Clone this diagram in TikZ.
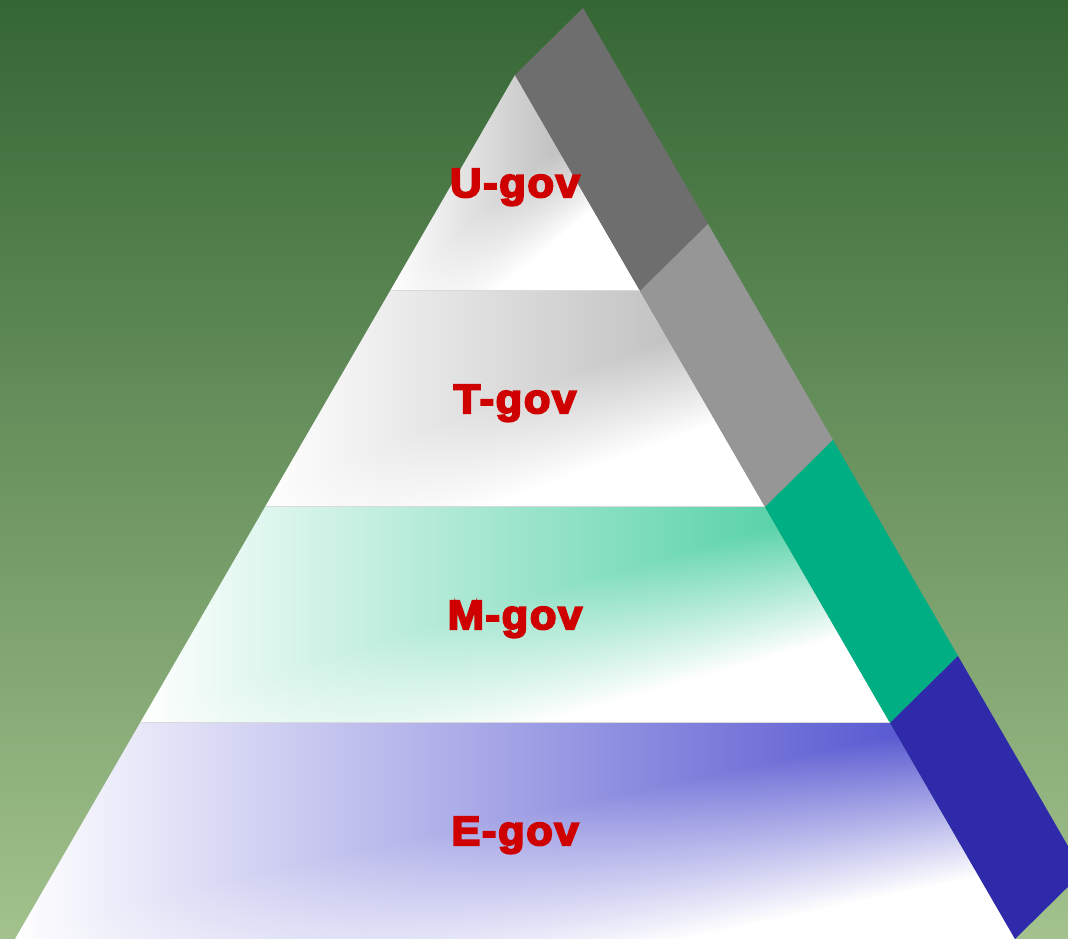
\documentclass[tikz,border=0pt]{standalone}
\usepackage{fontspec}
\newfontfamily\labelfont[FakeBold=5,FakeStretch=1.06,LetterSpace=4]{Liberation Sans Bold}
\usetikzlibrary{calc,fadings}

\definecolor{bgtop}{HTML}{346634}
\definecolor{bgmid}{HTML}{5B8B53}
\definecolor{bgbot}{HTML}{A3C28D}
\definecolor{labelred}{HTML}{CE0000}
% side band colours
\definecolor{uband}{HTML}{6E6E6E}
\definecolor{tband}{HTML}{969696}
\definecolor{mband}{HTML}{00AE84}
\definecolor{eband}{HTML}{2E2AAA}
% layer tints
\definecolor{ushade}{HTML}{A2A2A2}
\definecolor{tshade}{HTML}{B4B4B4}
\definecolor{mshade}{HTML}{3CCB9A}
\definecolor{eshade}{HTML}{4444CC}

\begin{document}
\begin{tikzpicture}[x=1pt, y=1pt,
  govlabel/.style={font=\labelfont\fontsize{41}{48}\selectfont, text=labelred,
                   anchor=base, inner sep=0pt},
  layerline/.style={draw=gray!30, line width=1pt}
]
\useasboundingbox (0,0) rectangle (1068,939);
\clip (0,0) rectangle (1068,939);

% background
\shade[top color=bgtop, middle color=bgmid, bottom color=bgbot] (0,0) rectangle (1068,939);

% pyramid outline
\coordinate (A) at (515,864);
\coordinate (BL) at (15,0);
\coordinate (BR) at (1015,0);

\foreach \i/\f/\g/\col/\band/\ang/\off/\w/\lab in {
    u/0/0.25/ushade/uband/40/0/70/U-gov,
    t/0.25/0.5/tshade/tband/20/5/95/T-gov,
    m/0.5/0.75/mshade/mband/16/15/125/M-gov,
    e/0.75/1/eshade/eband/12/15/155/E-gov}
{
  \coordinate (\i tl) at ($(A)!\f!(BL)$);
  \coordinate (\i tr) at ($(A)!\f!(BR)$);
  \coordinate (\i bl) at ($(A)!\g!(BL)$);
  \coordinate (\i br) at ($(A)!\g!(BR)$);
  \coordinate (\i c) at ($(A |- \i tl)!0.5!(A |- \i bl)$);
  \begin{scope}
    \clip (\i tl) -- (\i tr) -- (\i br) -- (\i bl) -- cycle;
    \shade[left color=white, middle color=\col!40!white, right color=\col]
      (\i bl) rectangle (\i br |- \i tl);
    \begin{scope}[transform canvas={rotate around={\ang:(\i c)}}]
      \fill[white, path fading=north] ($(\i c)+(-700,\off-\w)$) rectangle ($(\i c)+(700,\off)$);
      \fill[white] ($(\i c)+(-700,-600)$) rectangle ($(\i c)+(700,\off-\w+0.5)$);
    \end{scope}
  \end{scope}
  \draw[layerline] (\i tl) -- (\i tr);
  % side band
  \fill[\band] (\i tr) -- ++(68,67) -- ($(\i br)+(68,67)$) -- (\i br) -- cycle;
  \node[govlabel] (\i lab) at ($(\i c)+(0,-14)$) {\lab};
}
\end{tikzpicture}
\end{document}
